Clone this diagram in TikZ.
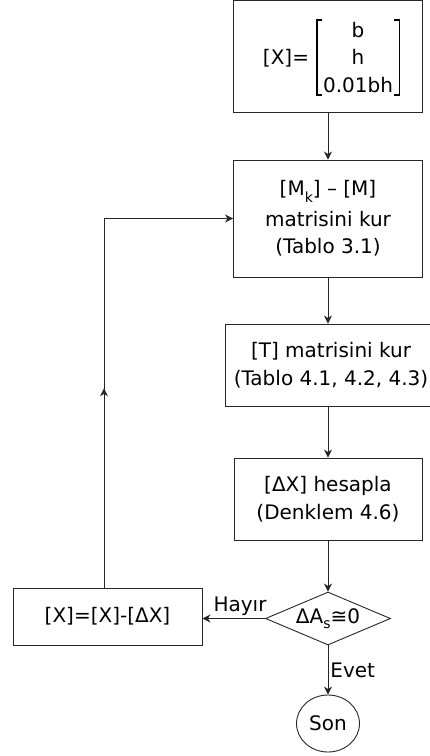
\documentclass[tikz,border=0pt]{standalone}
\usepackage{fontspec}
\setmainfont{DejaVu Sans}
\usetikzlibrary{shapes.geometric, arrows.meta, decorations.markings}
\tikzstyle{block}=[rectangle, draw=black!85, line width=0.9pt, align=center, inner sep=2pt, font=\fontsize{20}{27.5}\selectfont]
\tikzstyle{decision}=[diamond, draw=black!85, line width=0.9pt, aspect=2.36, inner sep=0pt, minimum width=125, minimum height=53, font=\fontsize{20}{24}\selectfont]
\tikzstyle{terminal}=[ellipse, draw=black!85, line width=0.9pt, inner sep=0pt, minimum width=63, minimum height=57, font=\fontsize{20}{24}\selectfont]
\tikzstyle{label}=[font=\fontsize{20}{27.5}\selectfont, inner sep=2pt]
\tikzstyle{vector}=[label, align=center, inner xsep=6pt, inner ysep=2pt]
\tikzstyle{bracket}=[draw=black, line width=1.3pt]
\tikzstyle{link}=[draw=black!85, line width=0.9pt, -{Stealth[length=8pt, width=8pt, inset=2.5pt]}]
\tikzstyle{backlink}=[link, postaction={decorate}, decoration={markings, mark=at position 0.4 with {\arrow{Stealth[length=8pt, width=8pt, inset=2.5pt]}}}]
\newcommand{\lowsub}[2]{\raisebox{-#1}{\fontsize{14}{14}\selectfont #2}}

\begin{document}
\begin{tikzpicture}[x=1pt, y=-1pt]
				\useasboundingbox (0,0) rectangle (430,756);

				% Start values of [X]
				\node[block, minimum width=189, minimum height=112] (init) at (328, 56) {};
				\node[label] (lhs) at (286, 58) {[X]=};
				\node[vector] (vec) at (358, 57.5) {b\\h\\0.01bh};
				\draw[bracket] ([xshift=5pt]vec.north west) -- (vec.north west) -- (vec.south west) -- ([xshift=5pt]vec.south west);
				\draw[bracket] ([xshift=-5pt]vec.north east) -- (vec.north east) -- (vec.south east) -- ([xshift=-5pt]vec.south east);

				% Steps of the iteration
				\node[block, minimum width=189, minimum height=117] (mk) at (328, 218.5)
					{[M\lowsub{7pt}{k}] – [M]\\[3pt] matrisini kur\\(Tablo 3.1)};
				\node[block, minimum width=212, minimum height=82] (tm) at (331, 365)
					{[T] matrisini kur\\(Tablo 4.1, 4.2, 4.3)};
				\node[block, minimum width=188, minimum height=82] (dx) at (328, 499)
					{[ΔX] hesapla\\(Denklem 4.6)};
				\node[decision] (dec) at (328, 618.5) {ΔA\lowsub{5pt}{s}≅0};
				\node[block, minimum width=189, minimum height=57] (fix) at (107.5, 616.5)
					{[X]=[X]-[ΔX]};
				\node[terminal] (son) at (328, 723.5) {Son};

				% Arrows
				\draw[link] (init) -- (mk);
				\draw[link] (mk) -- (mk |- tm.north);
				\draw[link] (mk |- tm.south) -- (dx);
				\draw[link] (dx) -- (dec);
				\draw[link] (dec.west) -- (dec.west -| fix.east) node[label, above, pos=0.4] {Hayır};
				\draw[link] (dec) -- (son) node[label, right, midway] {Evet};
				\draw[backlink] ([xshift=-3.5pt]fix.north) |- (mk.west);
			\end{tikzpicture}
\end{document}
